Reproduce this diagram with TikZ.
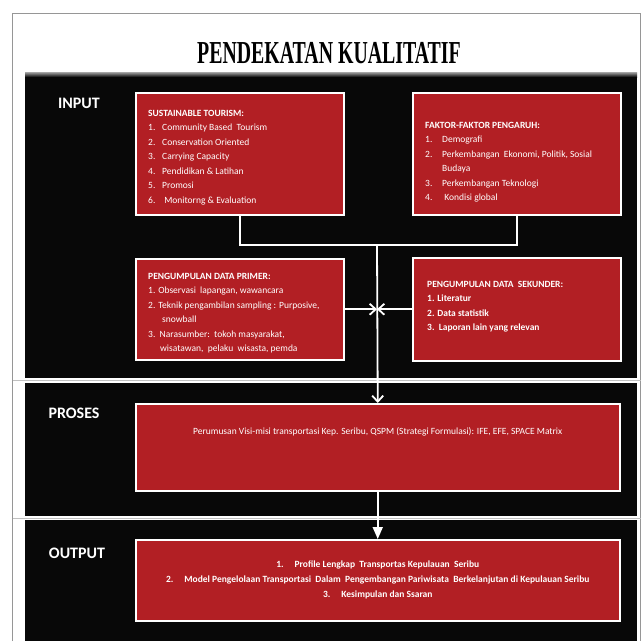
\documentclass[tikz,border=0pt]{standalone}
\usepackage{graphicx}
\usepackage{fontspec}
\setmainfont{Carlito}
\newfontfamily\titlefont{Liberation Serif}
\usetikzlibrary{arrows.meta, positioning, calc}
\definecolor{boxred}{RGB}{178,31,36}
\definecolor{panelblack}{RGB}{8,8,8}
\definecolor{framegray}{RGB}{150,150,150}

\newcommand{\itm}[2][14pt]{\makebox[#1][l]{#2}}

\begin{document}
\begin{tikzpicture}[x=1pt,y=-1pt,
	redbox/.style={draw=white, line width=1.5pt, fill=boxred, anchor=north west},
	boxtext/.style={text=white, inner sep=0pt, align=left,
		font=\fontsize{9.5pt}{14.5pt}\selectfont},
	rowlabel/.style={text=white, font=\fontsize{16pt}{18pt}\selectfont\bfseries},
	link/.style={draw=white, line width=1.8pt},
	openhead/.style={link, -{Straight Barb[length=6pt,width=11pt]}},
	fullhead/.style={link, -{Triangle[length=12pt,width=10pt]}}
]
\useasboundingbox (0,0) rectangle (643,641);
\fill[white] (0,0) rectangle (643,641);
% frame and rows
\draw[framegray, line width=1pt] (12.5,641) |- (640.5,13) -- (640.5,641);
\draw[framegray!60, line width=0.8pt] (12.5,380.5) -- (640.5,380.5);
\draw[framegray!60, line width=0.8pt] (12.5,518) -- (640.5,518);
\fill[panelblack] (25,72) rectangle (637,378);
\shade[top color=gray!70, bottom color=panelblack] (25,72) rectangle (637,77);
\fill[panelblack] (25,383) rectangle (637,516);
\fill[panelblack] (25,520) rectangle (637,641);

\node (title) at (329,53) {\titlefont\bfseries\fontsize{32pt}{32pt}\selectfont\scalebox{0.62}[1]{PENDEKATAN KUALITATIF}};

\node[rowlabel] (lblinput) at (79,103) {INPUT};
\node[rowlabel] (lblproses) at (74,413) {PROSES};
\node[rowlabel] (lbloutput) at (77,553) {OUTPUT};

% input boxes
\node[redbox, minimum width=208pt, minimum height=122pt] (sustain) at (135,92) {};
\node[boxtext, below right=18pt and 13pt of sustain.north west] (sustaintext)
	{\textbf{SUSTAINABLE TOURISM:}\\
	\itm{1.}Community Based\ \ Tourism\\
	\itm{2.}Conservation Oriented\\
	\itm{3.}Carrying Capacity\\
	\itm{4.}Pendidikan \& Latihan\\
	\itm{5.}Promosi\\
	\itm{6.}\ Monitorng \& Evaluation};
\node[redbox, minimum width=208pt, minimum height=122pt] (faktor) at (412,92) {};
\node[boxtext, below right=30pt and 13pt of faktor.north west] (faktortext)
	{\textbf{FAKTOR-FAKTOR PENGARUH:}\\
	\itm[17pt]{1.}Demografi\\
	\itm[17pt]{2.}Perkembangan\ \ Ekonomi, Politik, Sosial\\
	\hspace*{17pt}Budaya\\
	\itm[17pt]{3.}Perkembangan Teknologi\\
	\itm[17pt]{4.}\ Kondisi global};
\node[redbox, minimum width=208pt, minimum height=101pt] (primer) at (135,258) {};
\node[boxtext, below right=15pt and 13pt of primer.north west] (primertext)
	{\textbf{PENGUMPULAN DATA PRIMER:}\\
	1. Observasi\ \ lapangan, wawancara\\
	2. Teknik pengambilan\ sampling\ : Purposive,\\
	\hspace*{14pt}snowball\\
	3.\ \ Narasumber:\ \ tokoh masyarakat,\\
	\hspace*{12pt}wisatawan,\ \ pelaku\ \ wisasta, pemda};
\node[redbox, minimum width=208pt, minimum height=103pt] (sekunder) at (412,257) {};
\node[boxtext, below right=24pt and 15pt of sekunder.north west] (sekundertext)
	{\textbf{PENGUMPULAN DATA\ \ SEKUNDER:}\\
	\textbf{1. Literatur}\\
	\textbf{2. Data statistik}\\
	\textbf{3.\ \ Laporan lain yang relevan}};

% proses and output
\node[redbox, minimum width=484pt, minimum height=87pt] (proses) at (135,403) {};
\node[boxtext, below=24pt of proses.north] (prosestext)
	{Perumusan Visi-misi transportasi Kep. Seribu, QSPM (Strategi Formulasi): IFE, EFE, SPACE Matrix};
\node[redbox, minimum width=484pt, minimum height=81pt] (hasil) at (135,539) {};
\node[boxtext, align=center, font=\fontsize{9.5pt}{15pt}\selectfont\bfseries] (hasiltext) at (hasil.center)
	{1.\hspace{11pt}Profile Lengkap\ \ Transportas Kepulauan\ \ Seribu\\
	2.\hspace{11pt}Model Pengelolaan Transportasi\ \ Dalam\ \ Pengembangan\ Pariwisata\ \ Berkelanjutan di Kepulauan Seribu\\
	3.\hspace{11pt}Kesimpulan dan Ssaran};

% connectors
\coordinate (join) at (377,245);
\draw[link] (sustain.south) |- (join) -| (faktor.south);
\draw[openhead] (join) -- (proses.north);
\draw[openhead] (primer.east) -- (primer.east -| join);
\draw[openhead] (sekunder.west) -- (sekunder.west -| join);
\draw[fullhead] (proses.south) -- (hasil.north);
\end{tikzpicture}
\end{document}
